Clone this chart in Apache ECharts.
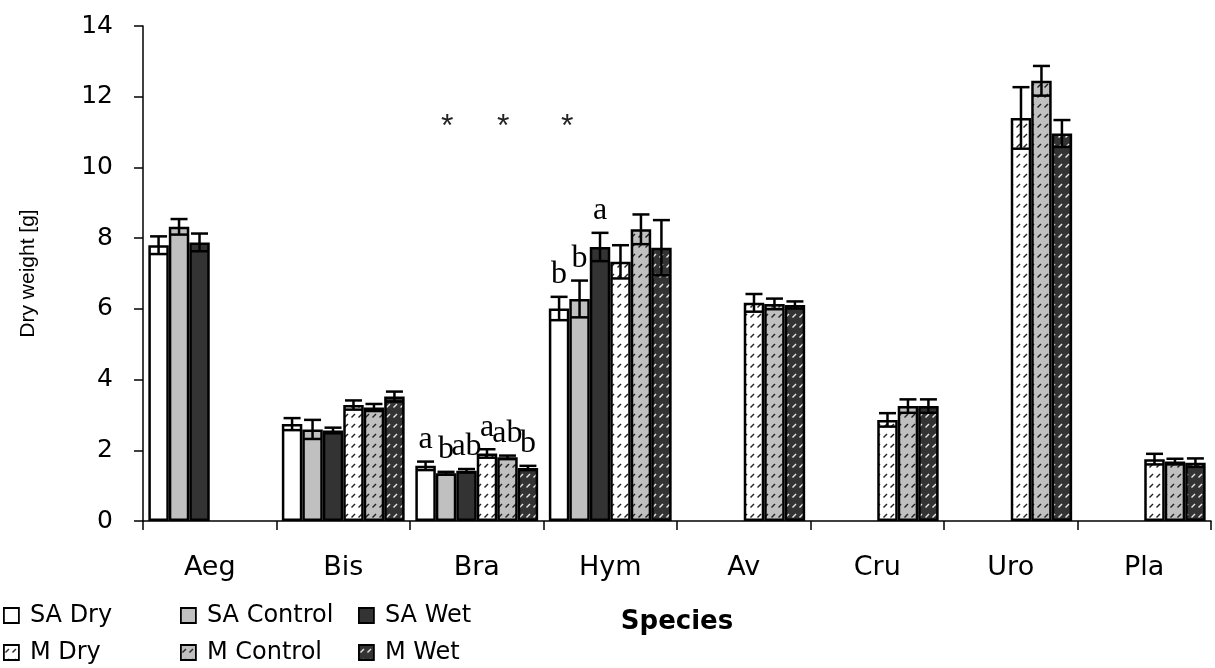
<!DOCTYPE html>
<html><head><meta charset="utf-8">
<script src="https://cdn.jsdelivr.net/npm/echarts@6/dist/echarts.min.js"></script>
<style>html,body{margin:0;padding:0;background:#fff}#c{width:1215px;height:668px}</style>
</head><body><div id="c"></div>
<script>
const categories = ['Aeg','Bis','Bra','Hym','Av','Cru','Uro','Pla'];
const yTicks = [0,2,4,6,8,10,12,14];
const seriesNames = ['SA Dry','SA Control','SA Wet','M Dry','M Control','M Wet'];

const saDry      = [7.80, 2.74, 1.56, 6.01, null, null, null, null];
const saControl  = [8.32, 2.59, 1.35, 6.28, null, null, null, null];
const saWet      = [7.88, 2.56, 1.42, 7.75, null, null, null, null];
const mDry       = [null, 3.28, 1.91, 7.33, 6.17, 2.86, 11.40, 1.75];
const mControl   = [null, 3.21, 1.80, 8.25, 6.14, 3.25, 12.45, 1.68];
const mWet       = [null, 3.52, 1.50, 7.73, 6.11, 3.25, 10.96, 1.65];

const saDryErr     = [0.25, 0.17, 0.12, 0.33, null, null, null, null];
const saControlErr = [0.22, 0.27, 0.04, 0.52, null, null, null, null];
const saWetErr     = [0.25, 0.08, 0.05, 0.40, null, null, null, null];
const mDryErr      = [null, 0.13, 0.12, 0.47, 0.25, 0.19, 0.87, 0.15];
const mControlErr  = [null, 0.10, 0.05, 0.42, 0.15, 0.19, 0.42, 0.08];
const mWetErr      = [null, 0.14, 0.06, 0.78, 0.10, 0.19, 0.38, 0.12];

const saDryLetters     = ['', '', 'a', 'b', '', '', '', ''];
const saControlLetters = ['', '', 'b', 'b', '', '', '', ''];
const saWetLetters     = ['', '', 'ab', 'a', '', '', '', ''];
const mDryLetters      = ['', '', 'a', '', '', '', '', ''];
const mControlLetters  = ['', '', 'ab', '', '', '', '', ''];
const mWetLetters      = ['', '', 'b', '', '', '', '', ''];

const values  = [saDry, saControl, saWet, mDry, mControl, mWet];
const errors  = [saDryErr, saControlErr, saWetErr, mDryErr, mControlErr, mWetErr];
const letters = [saDryLetters, saControlLetters, saWetLetters, mDryLetters, mControlLetters, mWetLetters];

function hatch(bg, fg) {
  const c = document.createElement('canvas');
  c.width = 7; c.height = 10;
  const ctx = c.getContext('2d');
  ctx.fillStyle = bg; ctx.fillRect(0, 0, 7, 10);
  ctx.strokeStyle = fg; ctx.lineWidth = 1.4;
  ctx.beginPath(); ctx.moveTo(1.5, 7.5); ctx.lineTo(5, 4); ctx.stroke();
  return {image: c, repeat: 'repeat'};
}
const fills = ['#ffffff', '#c0c0c0', '#333333',
  hatch('#ffffff', '#222'), hatch('#c0c0c0', '#222'), hatch('#333333', '#e6e6e6')];

const CAT_GAP = 0.08;
const FONT = 'DejaVu Sans';

const barSeries = seriesNames.map((n, i) => ({
  name: n, type: 'bar', data: values[i], barGap: 0, barCategoryGap: (CAT_GAP*100) + '%',
  itemStyle: {color: fills[i], borderColor: '#000', borderWidth: 2.5},
  z: 2
}));

const errSeries = seriesNames.map((n, si) => ({
  type: 'custom', z: 3, silent: true,
  data: categories.map((c, ci) => values[si][ci] == null ? null :
        [ci, values[si][ci], errors[si][ci], letters[si][ci]]).filter(d => d),
  encode: {x: 0, y: 1},
  renderItem: function (params, api) {
    const ci = api.value(0), v = api.value(1), e = api.value(2);
    const letter = errSeries[si].data[params.dataIndex][3];
    const band = api.size([1, 0])[0];
    const bw = band * (1 - CAT_GAP) / 6;
    const cx = api.coord([ci, 0])[0] - band * (1 - CAT_GAP) / 2 + bw * (si + 0.5);
    const yt = api.coord([ci, v + e])[1], yb = api.coord([ci, v - e])[1];
    const hw = 8.5;
    const st = {stroke: '#000', lineWidth: 2.5};
    const ch = [
      {type: 'line', shape: {x1: cx, y1: yt, x2: cx, y2: yb}, style: st},
      {type: 'line', shape: {x1: cx - hw, y1: yt, x2: cx + hw, y2: yt}, style: st},
      {type: 'line', shape: {x1: cx - hw, y1: yb, x2: cx + hw, y2: yb}, style: st}
    ];
    if (letter) ch.push({type: 'text', style: {text: letter, x: cx, y: yt - 6,
      align: 'center', verticalAlign: 'bottom', fill: '#000',
      font: '32px "Liberation Serif", "DejaVu Serif", serif'}});
    return {type: 'group', children: ch};
  }
}));

const chart = echarts.init(document.getElementById('c'), null, {renderer: 'canvas'});
const legendBase = {
  orient: 'vertical', itemWidth: 15, itemHeight: 15, itemGap: 12, top: 603, padding: 0,
  icon: 'rect', selectedMode: false,
  itemStyle: {borderColor: '#000', borderWidth: 1.8},
  textStyle: {fontFamily: FONT, fontSize: 24, lineHeight: 25, color: '#000', padding: [0, 0, 0, 6]}
};
chart.setOption({
  animation: false,
  backgroundColor: '#fff',
  grid: {left: 143, right: 4, top: 26, bottom: 147, containLabel: false},
  legend: [
    Object.assign({}, legendBase, {left: 3, data: ['SA Dry', 'M Dry']}),
    Object.assign({}, legendBase, {left: 180, data: ['SA Control', 'M Control']}),
    Object.assign({}, legendBase, {left: 358, data: ['SA Wet', 'M Wet']})
  ],
  xAxis: {
    type: 'category', data: categories,
    name: 'Species', nameLocation: 'middle', nameGap: 88,
    nameTextStyle: {fontFamily: FONT, fontSize: 26, fontWeight: 'bold', color: '#000'},
    axisLine: {lineStyle: {color: '#000', width: 1.5}},
    axisTick: {show: true, length: 9, lineStyle: {color: '#000', width: 1.5}},
    axisLabel: {fontFamily: FONT, fontSize: 27, color: '#000', margin: 33}
  },
  yAxis: {
    type: 'value', min: 0, max: 14, interval: 2,
    name: 'Dry weight [g]', nameLocation: 'middle', nameGap: 104,
    nameTextStyle: {fontFamily: 'Liberation Sans', fontSize: 21, color: '#000'},
    axisLine: {show: true, lineStyle: {color: '#000', width: 1.5}},
    axisTick: {show: true, length: 9, lineStyle: {color: '#000', width: 1.5}},
    splitLine: {show: false},
    axisLabel: {fontFamily: FONT, fontSize: 25, color: '#000', margin: 30,
      formatter: v => yTicks.includes(v) ? String(v) : ''}
  },
  graphic: [
    {type: 'text', left: 441, top: 111, style: {text: '*', font: '32px "Liberation Sans"', fill: '#222'}},
    {type: 'text', left: 497, top: 111, style: {text: '*', font: '32px "Liberation Sans"', fill: '#222'}},
    {type: 'text', left: 561, top: 111, style: {text: '*', font: '32px "Liberation Sans"', fill: '#222'}}
  ],
  series: barSeries.concat(errSeries)
});
</script></body></html>
